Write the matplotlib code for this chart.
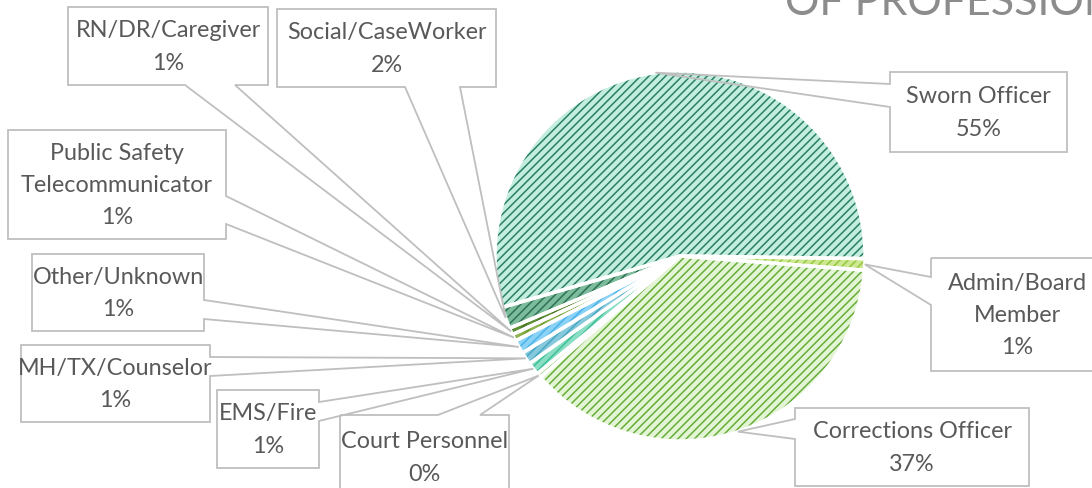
import numpy as np
import matplotlib.pyplot as plt
from matplotlib.patches import Wedge, Polygon

# datos del grafico (orden contrario a las agujas del reloj desde 0 grados)
labels = ['Sworn Officer', 'Social/CaseWorker', 'RN/DR/Caregiver',
          'Public Safety\nTelecommunicator', 'Other/Unknown', 'MH/TX/Counselor',
          'EMS/Fire', 'Court Personnel', 'Corrections Officer', 'Admin/Board\nMember']
values = [54.7, 1.9, 0.6, 0.6, 1.2, 1.1, 1.1, 0.4, 37.4, 1.0]

face_colors = ['#c2eddf', '#7cbc9c', '#5d8f35', '#8db34d', '#8ad2f6',
               '#86c8dc', '#8adec3', '#a8d98a', '#e4f5d6', '#cde890']
hatch_colors = ['#2a8062', '#2f7354', '#44701f', '#6d9a2c', '#4db3e8',
                '#4aa8c2', '#3fbf98', '#6fb345', '#66ae3a', '#93c83f']

# cajas de las etiquetas: x0, y0, x1, y1 (pixeles desde arriba), lado, puntos de union
boxes = [(890, 73, 1067, 153, 'left', 85, 108),
         (277, 10, 496, 88, 'bottom', 405, 460),
         (68, 8, 268, 86, 'bottom', 185, 235),
         (8, 131, 226, 240, 'right', 197, 225),
         (32, 255, 204, 332, 'right', 301, 320),
         (21, 346, 210, 423, 'right', 358, 377),
         (217, 391, 319, 469, 'right', 403, 422),
         (340, 416, 509, 500, 'top', 438, 480),
         (795, 409, 1029, 487, 'left', 420, 440),
         (931, 259, 1103, 372, 'left', 278, 306)]

W, H = 1092, 489
cx, cy, R = 680, 257, 185

plt.rcParams['hatch.linewidth'] = 1.1

def py(y):
    return H - y

fig = plt.figure(figsize=(W / 100, H / 100), dpi=100)
ax = fig.add_axes([0, 0, 1, 1])

wedges, _ = ax.pie(values, startangle=-0.8, counterclock=True, center=(cx, py(cy)),
                   radius=R, colors=face_colors, wedgeprops=dict(linewidth=0, zorder=2))

tips = []
for w, hc in zip(wedges, hatch_colors):
    ax.add_patch(Wedge(w.center, w.r, w.theta1, w.theta2, facecolor='none',
                       edgecolor=hc, hatch='////', lw=0, zorder=3))
    ax.add_patch(Wedge(w.center, w.r, w.theta1, w.theta2, facecolor='none',
                       edgecolor='white', lw=2.5, zorder=4))
    mid = np.radians((w.theta1 + w.theta2) / 2)
    tips.append((w.center[0] + w.r * np.cos(mid), w.center[1] + w.r * np.sin(mid)))

for lab, v, b, tip in zip(labels, values, boxes, tips):
    x0, y0, x1, y1, side, a, c = b
    tl, tr, br, bl = (x0, py(y0)), (x1, py(y0)), (x1, py(y1)), (x0, py(y1))
    if side == 'top':
        pts = [tl, (a, py(y0)), tip, (c, py(y0)), tr, br, bl]
    elif side == 'right':
        pts = [tl, tr, (x1, py(a)), tip, (x1, py(c)), br, bl]
    elif side == 'bottom':
        pts = [tl, tr, br, (c, py(y1)), tip, (a, py(y1)), bl]
    else:
        pts = [tl, tr, br, bl, (x0, py(c)), tip, (x0, py(a))]
    ax.add_patch(Polygon(pts, closed=True, facecolor='white', edgecolor='none', zorder=1))
    ax.add_patch(Polygon(pts, closed=True, facecolor='none', edgecolor='#bfbfbf',
                         lw=1.3, zorder=5))
    ax.text((x0 + x1) / 2, py((y0 + y1) / 2), '%s\n%d%%' % (lab, round(v)),
            ha='center', va='center', multialignment='center', fontsize=16.8,
            family='Lato', color='#595959', linespacing=1.65, zorder=6)

# titulo cortado arriba
ax.text(785, py(15), 'OF PROFESSIONS', fontsize=31, family='Lato',
        color='#8c8c8c', ha='left', va='baseline')

ax.set_xlim(0, W)
ax.set_ylim(0, H)
ax.set_aspect('equal')
ax.axis('off')

plt.savefig('out.png', dpi=100)
